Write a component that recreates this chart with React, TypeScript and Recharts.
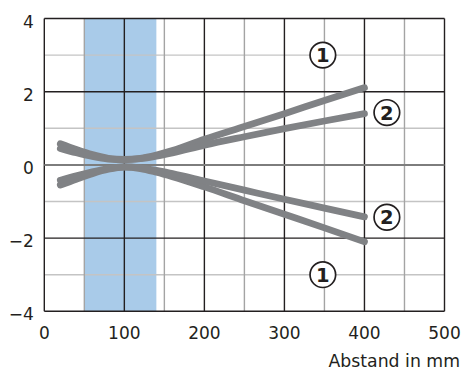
import React from 'react';
import { LineChart, Line, XAxis, YAxis, ReferenceArea, ReferenceLine, ReferenceDot } from 'recharts';

const distances = [20, 40, 60, 80, 100, 120, 140, 160, 200, 250, 300, 350, 400];
const upper1 = [0.58, 0.42, 0.28, 0.18, 0.15, 0.18, 0.27, 0.39, 0.7, 1.05, 1.4, 1.76, 2.11];
const upper2 = [0.45, 0.33, 0.23, 0.16, 0.14, 0.17, 0.24, 0.33, 0.54, 0.77, 0.99, 1.2, 1.4];
const lower2 = [-0.42, -0.3, -0.19, -0.1, -0.05, -0.08, -0.15, -0.24, -0.44, -0.69, -0.94, -1.18, -1.42];
const lower1 = [-0.55, -0.39, -0.24, -0.12, -0.06, -0.1, -0.2, -0.32, -0.6, -0.98, -1.35, -1.72, -2.1];

const xTicks = [0, 100, 200, 300, 400, 500];
const yTicks = [-4, -2, 0, 2, 4];
const xMinor = [50, 150, 250, 350, 450];
const yMinor = [-3, -1, 1, 3];
const band = [50, 140];
const labels = [
  { x: 348, y: 3, text: '1' },
  { x: 428, y: 1.43, text: '2' },
  { x: 428, y: -1.43, text: '2' },
  { x: 348, y: -3, text: '1' },
];
const xLabel = 'Abstand in mm';

const data = distances.map((d, i) => ({ x: d, u1: upper1[i], u2: upper2[i], l1: lower1[i], l2: lower2[i] }));

const FONT = 'DejaVu Sans';
const TEXT = '#231f20';
const GRAY = '#808285';

const fmt = (v: number) => (v < 0 ? '\u2212' + Math.abs(v) : String(v));

const XTick = (p: any) => (
  <text x={p.x} y={p.y + 27.4} textAnchor="middle" fontFamily={FONT} fontSize={17} fill={TEXT}>
    {fmt(p.payload.value)}
  </text>
);
const YTick = (p: any) => (
  <text x={p.x} y={p.y + 9} textAnchor="end" fontFamily={FONT} fontSize={17} fill={TEXT}>
    {fmt(p.payload.value)}
  </text>
);

const Circled = (text: string) => (props: any) => (
  <g>
    <circle cx={props.cx} cy={props.cy} r={12.8} fill="#ffffff" stroke={TEXT} strokeWidth={1.7} />
    <text x={props.cx} y={props.cy + 7} textAnchor="middle" fontFamily={FONT} fontWeight="bold" fontSize={19.5} fill={TEXT}>
      {text}
    </text>
  </g>
);

export default function App() {
  return (
    <div style={{ position: 'absolute', left: 0, top: 0, width: 464, height: 372, background: '#fff' }}>
      <LineChart width={464} height={372} data={data} margin={{ top: 18.5, right: 19.5, left: 0, bottom: 0 }}>
        <XAxis
          type="number"
          dataKey="x"
          domain={[0, 500]}
          ticks={xTicks}
          axisLine={false}
          tickLine={false}
          tickSize={0}
          tickMargin={0}
          height={60.7}
          tick={XTick}
          interval={0}
          label={(p: any) => {
            const vb = p.viewBox;
            return (
              <text x={vb.x + vb.width + 15.5} y={vb.y + vb.height - 5.5} textAnchor="end" fontFamily={FONT} fontSize={17.3} fill={TEXT}>
                {xLabel}
              </text>
            );
          }}
        />
        <YAxis
          type="number"
          domain={[-4, 4]}
          ticks={yTicks}
          axisLine={false}
          tickLine={false}
          tickSize={0}
          tickMargin={10.5}
          width={44.3}
          tick={YTick}
          interval={0}
        />
        <ReferenceArea x1={band[0]} x2={band[1]} y1={-4} y2={4} fill="#a9cbe9" fillOpacity={1} stroke="none" />
        {yMinor.map((v) => (
          <ReferenceLine key={'ym' + v} y={v} stroke="#c4c4c4" strokeWidth={1.4} />
        ))}
        {xMinor.map((v) => (
          <ReferenceLine key={'xm' + v} x={v} stroke="#a4a4a4" strokeWidth={1.4} />
        ))}
        {yTicks.filter((v) => v !== 0).map((v) => (
          <ReferenceLine key={'yM' + v} y={v} stroke={TEXT} strokeWidth={1.4} />
        ))}
        {xTicks.map((v) => (
          <ReferenceLine key={'xM' + v} x={v} stroke={TEXT} strokeWidth={1.4} />
        ))}
        <ReferenceLine y={0} stroke="#7d7d7d" strokeWidth={2} />
        <Line type="monotone" dataKey="u1" stroke={GRAY} strokeWidth={6.8} strokeLinecap="round" dot={false} isAnimationActive={false} />
        <Line type="monotone" dataKey="u2" stroke={GRAY} strokeWidth={6.8} strokeLinecap="round" dot={false} isAnimationActive={false} />
        <Line type="monotone" dataKey="l1" stroke={GRAY} strokeWidth={6.8} strokeLinecap="round" dot={false} isAnimationActive={false} />
        <Line type="monotone" dataKey="l2" stroke={GRAY} strokeWidth={6.8} strokeLinecap="round" dot={false} isAnimationActive={false} />
        {labels.map((l, i) => (
          <ReferenceDot key={'lab' + i} x={l.x} y={l.y} r={12.8} shape={Circled(l.text)} />
        ))}
      </LineChart>
    </div>
  );
}
